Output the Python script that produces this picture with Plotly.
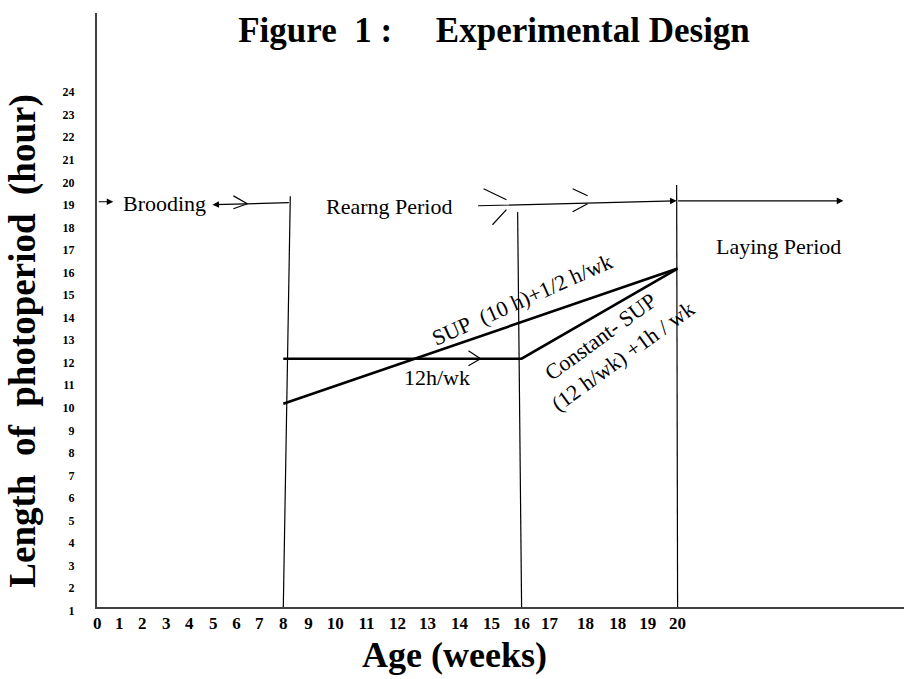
import plotly.graph_objects as go

# ---------------- data ----------------
X_TICK_LABELS = ["0", "1", "2", "3", "4", "5", "6", "7", "8", "9", "10", "11", "12",
                 "13", "14", "15", "16", "17", "18", "18", "19", "20"]
# label centres along the (unevenly spaced) age axis, in axis units
X_TICK_POS = [0.0, 0.94, 1.93, 2.96, 3.95, 4.98, 5.97, 6.95, 7.98, 9.06, 10.21, 11.55,
              12.88, 14.16, 15.54, 16.91, 18.20, 19.40, 20.94, 22.32, 23.61, 24.89]
Y_TICK_VALS = list(range(1, 25))

SUP_WEEKS = [8, 20]
SUP_HOURS = [10, 16]
CONST_WEEKS = [8, 16, 20]
CONST_HOURS = [12, 12, 16]

DIVIDER_WEEKS = [8, 16, 20]
DIVIDER_TOP_HOURS = [19.2, 18.5, 19.7]
DIVIDER_TOP_SHIFT = [0.3, -0.17, -0.04]

FONT = "Liberation Serif"
X_RANGE = [-0.01, 34.6]
Y_RANGE = [0.99, 27.33]


def xpos(week):
    return X_TICK_POS[X_TICK_LABELS.index(str(week))]


fig = go.Figure()

# period dividers
for w, top, sh in zip(DIVIDER_WEEKS, DIVIDER_TOP_HOURS, DIVIDER_TOP_SHIFT):
    fig.add_trace(go.Scatter(x=[xpos(w), xpos(w) + sh], y=[Y_RANGE[0], top],
                             mode="lines", line=dict(color="black", width=1.2),
                             showlegend=False, hoverinfo="skip"))

# treatment lines
fig.add_trace(go.Scatter(x=[xpos(w) for w in SUP_WEEKS], y=SUP_HOURS, mode="lines",
                         line=dict(color="black", width=2.6), showlegend=False))
fig.add_trace(go.Scatter(x=[xpos(w) for w in CONST_WEEKS], y=CONST_HOURS, mode="lines",
                         line=dict(color="black", width=2.6), showlegend=False))

# open chevrons (direction marks)
CHEV_X = [5.84, 6.44, 5.84, None, 16.57, 17.55, None, 16.95, 17.55, None,
          20.39, 21.03, None, 20.39, 21.03, None, 15.92, 16.44, 15.92]
CHEV_Y = [19.22, 18.87, 18.65, None, 19.54, 19.05, None, 17.94, 18.61, None,
          19.54, 19.23, None, 18.52, 18.87, None, 12.35, 12.0, 11.69]
fig.add_trace(go.Scatter(x=CHEV_X, y=CHEV_Y, mode="lines",
                         line=dict(color="black", width=1.2), showlegend=False,
                         hoverinfo="skip"))

# timeline arrows: (head_x, head_y, tail_x, tail_y)
ARROWS = [
    (0.69, 18.96, 0.0, 18.96),
    (4.94, 18.83, 8.28, 18.92),
    (24.85, 19.0, 16.27, 18.78),
    (32.0, 19.0, 24.85, 19.0),
]
annotations = []
for hx, hy, tx, ty in ARROWS:
    annotations.append(dict(x=hx, y=hy, ax=tx, ay=ty, xref="x", yref="y",
                            axref="x", ayref="y", text="", showarrow=True,
                            arrowhead=2, arrowsize=1.1, arrowwidth=1.2,
                            arrowcolor="black", standoff=0, startstandoff=0))

# text labels: (text, x, y, angle)
LABELS = [
    ("Brooding", 2.88, 18.87, 0),
    ("Rearng Period", 12.53, 18.75, 0),
    ("Laying Period", 29.2, 16.96, 0),
    ("12h/wk", 14.59, 11.16, 0),
    ("SUP\u00a0\u00a0(10 h)+1/2 h/wk", 18.24, 14.61, -24),
    ("Constant- SUP", 21.59, 12.97, -36),
    ("(12 h/wk) +1h / wk", 22.53, 12.09, -36),
]
for t, x, y, a in LABELS:
    annotations.append(dict(x=x, y=y, xref="x", yref="y", text=t, showarrow=False,
                            textangle=a, xanchor="center", yanchor="middle",
                            font=dict(family=FONT, size=22, color="black")))

# axis titles
annotations.append(dict(x=-0.092, y=0.448, xref="paper", yref="paper",
                        text="<b>Length\u00a0\u00a0of\u00a0\u00a0photoperiod\u00a0\u00a0(hour)</b>",
                        textangle=-90, showarrow=False, xanchor="center", yanchor="middle",
                        font=dict(family=FONT, size=37, color="black")))
annotations.append(dict(x=0.443, y=-0.08, xref="paper", yref="paper",
                        text="<b>Age (weeks)</b>", showarrow=False,
                        xanchor="center", yanchor="middle",
                        font=dict(family=FONT, size=36, color="black")))

fig.update_layout(
    width=904, height=679,
    margin=dict(l=97, r=0, t=13, b=72),
    paper_bgcolor="white", plot_bgcolor="white",
    title=dict(text="<b>Figure\u00a0\u00a01\u00a0:\u00a0\u00a0\u00a0\u00a0\u00a0Experimental Design</b>",
               x=494 / 904, xanchor="center", y=1 - 30 / 679, yanchor="middle",
               font=dict(family=FONT, size=35, color="black")),
    xaxis=dict(range=X_RANGE, tickvals=X_TICK_POS,
               ticktext=["<b>%s</b>" % t for t in X_TICK_LABELS],
               showline=True, linecolor="#404040", linewidth=2, mirror=False,
               showgrid=False, zeroline=False, ticks="",
               tickfont=dict(family=FONT, size=17, color="black")),
    yaxis=dict(range=Y_RANGE, tickvals=Y_TICK_VALS,
               ticktext=["<b>%d</b>" % v for v in Y_TICK_VALS],
               showline=True, linecolor="#404040", linewidth=2,
               showgrid=False, zeroline=False, ticks="outside", ticklen=18,
               tickcolor="rgba(0,0,0,0)", ticklabelshift=4,
               tickfont=dict(family=FONT, size=12, color="black")),
    annotations=annotations,
    showlegend=False,
)

fig.write_html("out.html", config={"displayModeBar": False},
               post_script="document.body.style.margin='0';document.body.style.overflow='hidden';")
